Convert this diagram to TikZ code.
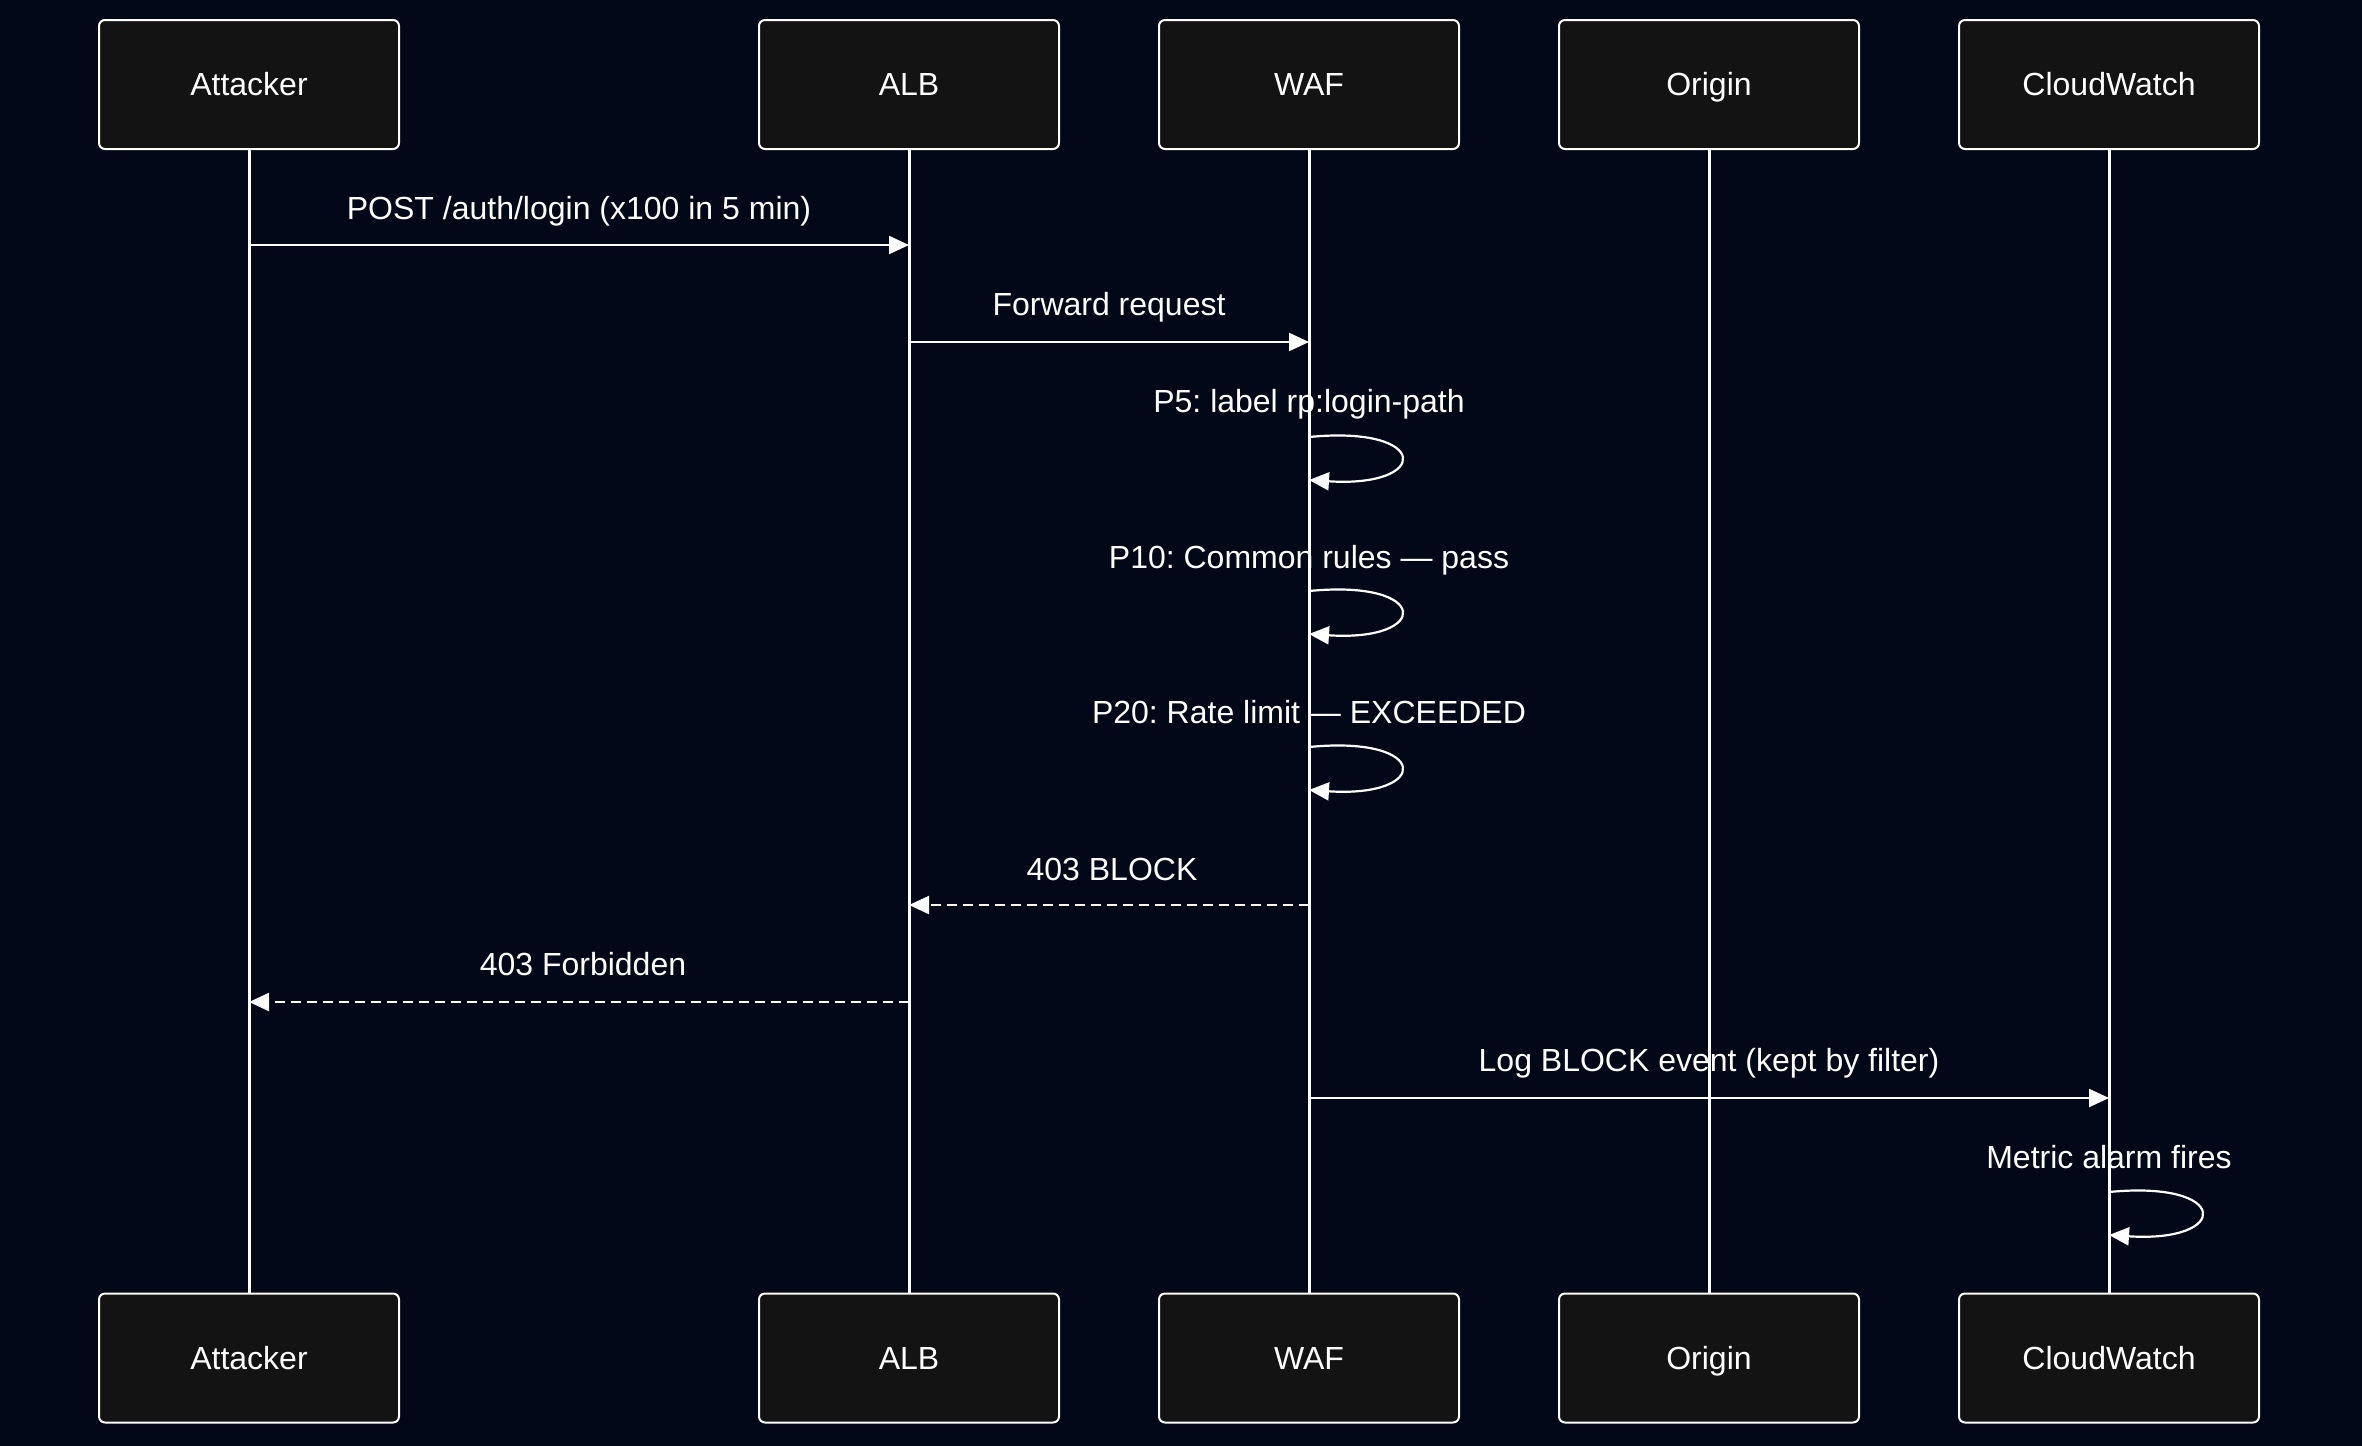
\documentclass[tikz,border=0pt]{standalone}
\usepackage{fontspec}
\setmainfont{Liberation Sans}
\usetikzlibrary{arrows.meta}
\definecolor{pagebg}{HTML}{020817}
\definecolor{boxfill}{HTML}{131313}
\frenchspacing

\begin{document}
\begin{tikzpicture}[x=0.5pt, y=-0.5pt, >={Triangle[length=10pt, width=9pt]},
    actor/.style={draw=white, fill=boxfill, line width=1pt, rounded corners=3pt,
      minimum width=150pt, minimum height=64.5pt, text=white,
      text height=11.5pt, text depth=0.5pt,
      font=\fontsize{16}{19}\selectfont},
    lifeline/.style={white, line width=1.5pt},
    msg/.style={->, white, line width=1.1pt},
    reply/.style={msg, dash pattern=on 5pt off 3pt},
    msglabel/.style={text=white, font=\fontsize{16}{19}\selectfont, inner sep=0pt,
      text height=11.5pt, text depth=3.5pt}]

    % Background (fixes the margins)
    \fill[pagebg] (0,0) rectangle (2362,1446);
    \useasboundingbox (0,0) rectangle (2362,1446);

    % Participants, top row
    \node[actor] (attT) at (249, 84.5) {Attacker};
    \node[actor] (albT) at (909, 84.5) {ALB};
    \node[actor] (wafT) at (1309, 84.5) {WAF};
    \node[actor] (oriT) at (1709, 84.5) {Origin};
    \node[actor] (cwT)  at (2109, 84.5) {CloudWatch};

    % Participants, bottom row
    \node[actor] (attB) at (249, 1358) {Attacker};
    \node[actor] (albB) at (909, 1358) {ALB};
    \node[actor] (wafB) at (1309, 1358) {WAF};
    \node[actor] (oriB) at (1709, 1358) {Origin};
    \node[actor] (cwB)  at (2109, 1358) {CloudWatch};

    % Request from attacker through ALB to WAF
    \node[msglabel] (l1) at (579, 211) {POST /auth/login (x100 in 5 min)};
    \draw[msg] (attT |- 0,245) -- (albT |- 0,245);
    \node[msglabel] (l2) at (1109, 307) {Forward request};
    \draw[msg] (albT |- 0,342) -- (wafT |- 0,342);

    % WAF rule evaluation (self messages)
    \node[msglabel] (l3) at (1309, 404) {P5: label rp:login-path};
    \draw[msg] (wafT |- 0,437) .. controls +(122,-12) and +(122,8) .. (wafT |- 0,480);
    \node[msglabel] (l4) at (1309, 560) {P10: Common rules --- pass};
    \draw[msg] (wafT |- 0,591) .. controls +(122,-12) and +(122,8) .. (wafT |- 0,634);
    \node[msglabel] (l5) at (1309, 715) {P20: Rate limit --- EXCEEDED};
    \draw[msg] (wafT |- 0,747) .. controls +(122,-12) and +(122,8) .. (wafT |- 0,790);

    % Block responses
    \node[msglabel] (l6) at (1112, 872) {403 BLOCK};
    \draw[reply] (wafT |- 0,905) -- (albT |- 0,905);
    \node[msglabel] (l7) at (583, 967) {403 Forbidden};
    \draw[reply] (albT |- 0,1002) -- (attT |- 0,1002);

    % Logging and alarm
    \node[msglabel] (l8) at (1709, 1063) {Log BLOCK event (kept by filter)};
    \draw[msg] (wafT |- 0,1098) -- (cwT |- 0,1098);
    \node[msglabel] (l9) at (2109, 1160) {Metric alarm fires};
    \draw[msg] (cwT |- 0,1192) .. controls +(122,-12) and +(122,8) .. (cwT |- 0,1235);

    % Lifelines
    \draw[lifeline] (attT) -- (attB);
    \draw[lifeline] (albT) -- (albB);
    \draw[lifeline] (wafT) -- (wafB);
    \draw[lifeline] (oriT) -- (oriB);
    \draw[lifeline] (cwT) -- (cwB);

\end{tikzpicture}
\end{document}
